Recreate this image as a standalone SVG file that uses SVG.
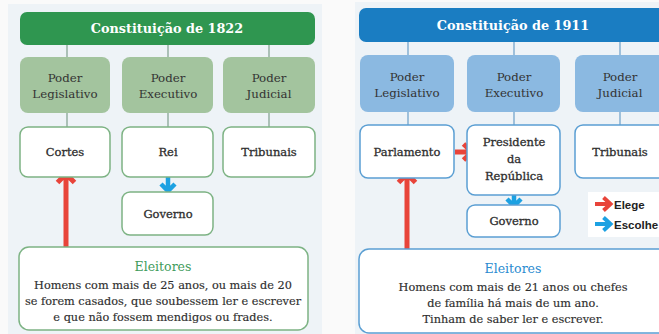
<svg xmlns="http://www.w3.org/2000/svg" width="659" height="334" viewBox="0 0 659 334">
<style>
.serif{font-family:"DejaVu Serif","Liberation Serif",serif;fill:#333;text-anchor:middle}
.title{font-family:"DejaVu Serif","Liberation Serif",serif;font-weight:bold;font-size:12.8px;fill:#fff;text-anchor:middle}
.pw{font-size:11.8px;fill:#333}
.lbl{font-size:11.5px;fill:#2e2e2e;stroke:#2e2e2e;stroke-width:0.3}
.body{font-size:11.3px;fill:#2e2e2e;stroke:#2e2e2e;stroke-width:0.15}
.gbox{fill:#fff;stroke:#7db384;stroke-width:1.5}
.bbox{fill:#fff;stroke:#5b9fd3;stroke-width:1.5}
.conL{stroke:#7f9f8c;stroke-width:1.2}
.conR{stroke:#6b9fc8;stroke-width:1.2}
.red{stroke:#e8443a;stroke-width:5;fill:none}
.blue{stroke:#1ca1e2;stroke-width:4.5;fill:none}
.leg{font-family:"Liberation Sans","DejaVu Sans",sans-serif;font-weight:bold;font-size:11.5px;fill:#222}
</style>
<rect x="0" y="0" width="659" height="334" fill="#fafafa"/>
<rect x="8" y="4" width="314" height="332" fill="#eef3f7"/>
<rect x="355" y="2" width="310" height="334" fill="#eef3f7"/>

<g id="connectors">
<line class="conL" x1="67" y1="45" x2="67" y2="57"/>
<line class="conL" x1="168" y1="45" x2="168" y2="57"/>
<line class="conL" x1="269" y1="45" x2="269" y2="57"/>
<line class="conL" x1="67" y1="113" x2="67" y2="127"/>
<line class="conL" x1="168" y1="113" x2="168" y2="127"/>
<line class="conL" x1="269" y1="113" x2="269" y2="127"/>
<line class="conR" x1="408" y1="42" x2="408" y2="55"/>
<line class="conR" x1="514" y1="42" x2="514" y2="55"/>
<line class="conR" x1="620" y1="42" x2="620" y2="55"/>
<line class="conR" x1="408" y1="112" x2="408" y2="125"/>
<line class="conR" x1="514" y1="112" x2="514" y2="125"/>
<line class="conR" x1="620" y1="112" x2="620" y2="125"/>
<path class="red" d="M66 247V175M57.5 182.5L66 174L74.5 182.5"/>
<path class="blue" d="M168 177V190M161 184L168 191L175 184"/>
<path class="red" d="M407 249V175M398.5 182.5L407 174L415.5 182.5"/>
<path class="red" d="M455 152H471M463.5 144L472 152L463.5 160"/>
<path class="blue" d="M514 195V205M507 199L514 206L521 199"/>
</g>

<g id="title1822"><rect x="20" y="12" width="295" height="33" rx="7" fill="#2f9650"/><text class="title" x="167" y="33">Constituição de 1822</text></g>
<g id="leg1822"><rect x="20" y="57" width="90" height="56" rx="8" fill="#a3c49e"/><text class="serif pw" x="65" y="82">Poder</text><text class="serif pw" x="65" y="98">Legislativo</text></g>
<g id="exe1822"><rect x="122" y="57" width="91" height="56" rx="8" fill="#a3c49e"/><text class="serif pw" x="168" y="82">Poder</text><text class="serif pw" x="168" y="98">Executivo</text></g>
<g id="jud1822"><rect x="223" y="57" width="92" height="56" rx="8" fill="#a3c49e"/><text class="serif pw" x="269" y="82">Poder</text><text class="serif pw" x="269" y="98">Judicial</text></g>
<g id="cortes"><rect class="gbox" x="20" y="127" width="90" height="50" rx="8"/><text class="serif lbl" x="65" y="156">Cortes</text></g>
<g id="rei"><rect class="gbox" x="122" y="127" width="91" height="50" rx="8"/><text class="serif lbl" x="168" y="156">Rei</text></g>
<g id="trib1822"><rect class="gbox" x="223" y="127" width="92" height="50" rx="8"/><text class="serif lbl" x="269" y="156">Tribunais</text></g>
<g id="gov1822"><rect class="gbox" x="122" y="192" width="91" height="43" rx="8"/><text class="serif lbl" x="168" y="218">Governo</text></g>
<g id="eleit1822"><rect class="gbox" x="19" y="247" width="289" height="83" rx="10"/>
<text class="serif" x="163" y="271" font-size="12.5" style="fill:#3f9c5c">Eleitores</text>
<text class="serif body" x="163" y="289">Homens com mais de 25 anos, ou mais de 20</text>
<text class="serif body" x="163" y="305">se forem casados, que soubessem ler e escrever</text>
<text class="serif body" x="163" y="321">e que não fossem mendigos ou frades.</text></g>

<g id="title1911"><rect x="359" y="8" width="320" height="34" rx="7" fill="#1a7dc2"/><text class="title" x="513" y="30">Constituição de 1911</text></g>
<g id="leg1911"><rect x="360" y="55" width="94" height="57" rx="8" fill="#8bb9e1"/><text class="serif pw" x="407" y="81">Poder</text><text class="serif pw" x="407" y="97">Legislativo</text></g>
<g id="exe1911"><rect x="467" y="55" width="93" height="57" rx="8" fill="#8bb9e1"/><text class="serif pw" x="514" y="81">Poder</text><text class="serif pw" x="514" y="97">Executivo</text></g>
<g id="jud1911"><rect x="575" y="55" width="100" height="57" rx="8" fill="#8bb9e1"/><text class="serif pw" x="620" y="81">Poder</text><text class="serif pw" x="620" y="97">Judicial</text></g>
<g id="parlamento"><rect class="bbox" x="360" y="125" width="94" height="53" rx="8"/><text class="serif lbl" x="407" y="156">Parlamento</text></g>
<g id="presidente"><rect class="bbox" x="467" y="125" width="93" height="70" rx="8"/><text class="serif lbl" x="514" y="146">Presidente</text><text class="serif lbl" x="514" y="163">da</text><text class="serif lbl" x="514" y="180">República</text></g>
<g id="trib1911"><rect class="bbox" x="575" y="125" width="100" height="53" rx="8"/><text class="serif lbl" x="620" y="156">Tribunais</text></g>
<g id="gov1911"><rect class="bbox" x="467" y="205" width="93" height="32" rx="8"/><text class="serif lbl" x="514" y="225">Governo</text></g>
<g id="legend"><rect x="588" y="192" width="80" height="45" fill="#fff"/>
<path class="red" style="stroke-width:4" d="M595 204H610M603.5 197.5L610.5 204L603.5 210.5"/>
<text class="leg" x="614" y="208.5">Elege</text>
<path class="blue" style="stroke-width:4" d="M595 224H610M603.5 217.5L610.5 224L603.5 230.5"/>
<text class="leg" x="614" y="228.5">Escolhe</text></g>
<g id="eleit1911"><rect class="bbox" x="359" y="249" width="320" height="84" rx="10"/>
<text class="serif" x="513" y="273" font-size="12.5" style="fill:#2a8bd0">Eleitores</text>
<text class="serif body" x="513" y="291">Homens com mais de 21 anos ou chefes</text>
<text class="serif body" x="513" y="307">de família há mais de um ano.</text>
<text class="serif body" x="513" y="323">Tinham de saber ler e escrever.</text></g>
</svg>
